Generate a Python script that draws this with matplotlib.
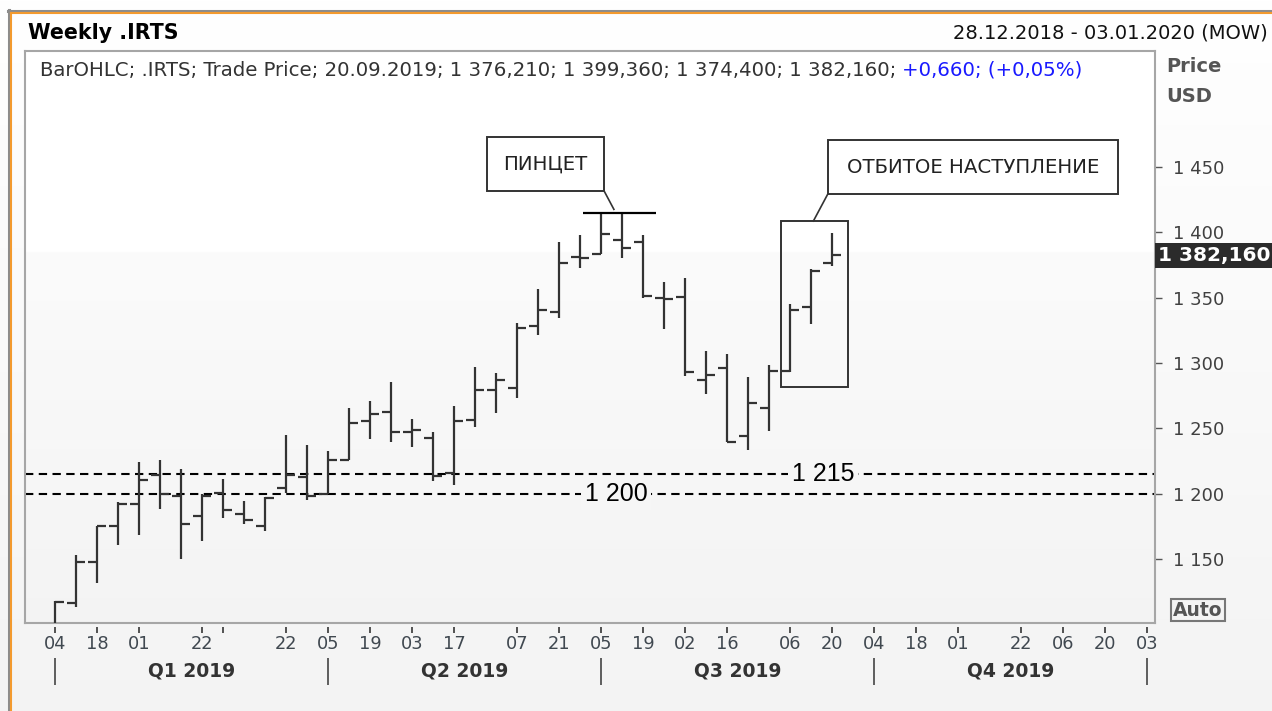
import numpy as np
import pandas as pd
import matplotlib
matplotlib.use("Agg")
import matplotlib.pyplot as plt
import matplotlib.dates as mdates
from matplotlib.patches import Rectangle
from matplotlib.lines import Line2D
from matplotlib.ticker import FuncFormatter
import matplotlib.transforms as mtransforms

# weekly bars (.IRTS), dated by Friday
weeks = pd.date_range("2019-01-04", "2019-09-20", freq="7D")
opens = [1070.0, 1117.0, 1148.1, 1175.6, 1192.4, 1214.5, 1198.5, 1183.2, 1200.8, 1184.7,
         1175.6, 1204.8, 1213.0, 1200.0, 1226.0, 1255.7, 1262.8, 1247.1, 1242.5, 1215.8,
         1256.5, 1279.4, 1281.1, 1328.2, 1338.7, 1381.1, 1383.2, 1393.9, 1392.6, 1349.8,
         1350.2, 1287.0, 1296.4, 1244.3, 1265.4, 1294.1, 1343.0, 1376.21]
highs = [1118.3, 1153.4, 1175.6, 1194.1, 1224.7, 1226.0, 1219.1, 1199.8, 1211.5, 1194.9,
         1197.7, 1245.0, 1237.4, 1232.8, 1265.9, 1271.0, 1285.7, 1257.0, 1247.6, 1267.2,
         1296.7, 1292.1, 1330.3, 1356.3, 1392.6, 1397.7, 1414.3, 1414.3, 1397.7, 1362.2,
         1365.1, 1309.4, 1306.9, 1289.5, 1298.5, 1345.0, 1371.5, 1399.36]
lows = [1066.0, 1114.0, 1132.3, 1161.1, 1168.7, 1188.5, 1150.4, 1164.1, 1181.7, 1176.9,
        1171.8, 1201.0, 1195.4, 1200.0, 1226.0, 1242.0, 1239.5, 1236.1, 1209.9, 1206.9,
        1251.4, 1262.1, 1273.1, 1321.4, 1334.1, 1372.3, 1383.2, 1379.9, 1349.8, 1326.3,
        1290.3, 1276.1, 1239.9, 1233.6, 1248.3, 1292.9, 1329.8, 1374.40]
closes = [1117.9, 1148.1, 1175.6, 1192.1, 1210.7, 1200.0, 1177.1, 1198.7, 1187.8, 1180.2,
          1197.2, 1214.3, 1198.5, 1226.0, 1254.0, 1261.1, 1247.1, 1248.9, 1214.0, 1255.5,
          1279.4, 1287.0, 1326.9, 1340.5, 1376.1, 1379.9, 1398.5, 1388.0, 1350.9, 1349.0,
          1292.9, 1290.8, 1239.9, 1269.2, 1293.9, 1340.5, 1370.2, 1382.16]

levels = [1215, 1200]
level_labels = ["1 215", "1 200"]
level_label_dates = ["2019-09-17", "2019-07-10"]

tick_dates = ["2019-01-04", "2019-01-18", "2019-02-01", "2019-02-22", "2019-03-01", "2019-03-22",
              "2019-04-05", "2019-04-19", "2019-05-03", "2019-05-17", "2019-06-07", "2019-06-21",
              "2019-07-05", "2019-07-19", "2019-08-02", "2019-08-16", "2019-09-06", "2019-09-20",
              "2019-10-04", "2019-10-18", "2019-11-01", "2019-11-22", "2019-12-06", "2019-12-20",
              "2020-01-03"]
tick_labels = ["04", "18", "01", "22", "", "22", "05", "19", "03", "17", "07", "21", "05", "19",
               "02", "16", "06", "20", "04", "18", "01", "22", "06", "20", "03"]
quarter_edges = ["2019-01-04", "2019-04-05", "2019-07-05", "2019-10-04", "2020-01-03"]
quarter_names = ["Q1 2019", "Q2 2019", "Q3 2019", "Q4 2019"]

W, H = 1272, 711
fig = plt.figure(figsize=(W / 100, H / 100), dpi=100)
fig.patch.set_facecolor("white")

def fx(x):
    return x / W

def fy(y):
    return 1 - y / H

# background gradient
bg = fig.add_axes([0, 0, 1, 1], zorder=-10)
grad = np.linspace(1.0, 0.955, 256).reshape(-1, 1)
bg.imshow(np.dstack([grad, grad, grad]), aspect="auto", extent=[0, 1, 0, 1])
bg.set_axis_off()

# outer frame
fig.add_artist(Line2D([fx(8.5), fx(8.5)], [fy(10), 0], transform=fig.transFigure, color="#8c8c8c", lw=2.2))
fig.add_artist(Line2D([fx(8), 1], [fy(10.5), fy(10.5)], transform=fig.transFigure, color="#8c8c8c", lw=2.2))
fig.add_artist(Line2D([fx(11.3), fx(11.3)], [fy(12.5), 0], transform=fig.transFigure, color="#f39a2e", lw=1.5))
fig.add_artist(Line2D([fx(10.5), 1], [fy(13.3), fy(13.3)], transform=fig.transFigure, color="#f39a2e", lw=1.5))

ax = fig.add_axes([fx(25), fy(623), fx(1130), 572 / H])
x0 = mdates.date2num(pd.Timestamp("2019-01-04"))
ax.set_xlim(x0 - 10, x0 + 366.67)
ax.set_ylim(1101.5, 1538.2)

pgrad = np.linspace(1.0, 0.955, 256).reshape(-1, 1)
pgrad[:90] = 1.0
ax.imshow(np.dstack([pgrad, pgrad, pgrad]), aspect="auto", extent=[0, 1, 0, 1],
          transform=ax.transAxes, zorder=0)

for s in ax.spines.values():
    s.set_color("#a6a6a6")
    s.set_linewidth(1.5)

# OHLC bars
xd = mdates.date2num(weeks)
bar_c = "#333333"
ax.vlines(xd, lows, highs, color=bar_c, lw=1.6, zorder=3)
ax.hlines(opens, xd - 3, xd, color=bar_c, lw=1.6, zorder=3)
ax.hlines(closes, xd, xd + 3, color=bar_c, lw=1.6, zorder=3)

# support levels
for lv, lab, ld in zip(levels, level_labels, level_label_dates):
    ax.axhline(lv, color="black", lw=1.5, ls=(0, (4, 2.6)), zorder=2)
    ax.text(mdates.date2num(pd.Timestamp(ld)), lv, lab, ha="center", va="center",
            fontsize=18, family=["Liberation Sans", "DejaVu Sans"], color="black", zorder=4,
            bbox=dict(boxstyle="square,pad=0.15", fc="#f6f6f6", ec="none"))

# tweezers annotation
top = max(highs[26:28])
ax.hlines(top, x0 + 176, x0 + 200.2, color="black", lw=1.6, zorder=4)
ax.add_patch(Rectangle((x0 + 144.1, 1431.5), 38.9, 40.8, fill=False, ec="#333333", lw=1.4, zorder=4))
ax.plot([x0 + 183, x0 + 186.3], [1431.5, 1417.3], color="#333333", lw=1.2, zorder=4)
ax.text(x0 + 163.5, 1452, "ПИНЦЕТ", ha="center", va="center", fontsize=14.2, color="#222222",
        family="DejaVu Sans", zorder=5)

# rejected advance annotation
ax.add_patch(Rectangle((x0 + 242, 1281.7), 22.3, 126.7, fill=False, ec="#333333", lw=1.4, zorder=4))
ax.add_patch(Rectangle((x0 + 257.6, 1429.0), 96.8, 41.2, fill=False, ec="#333333", lw=1.4, zorder=4))
ax.plot([x0 + 257.6, x0 + 252.8], [1429.0, 1408.4], color="#333333", lw=1.2, zorder=4)
ax.text(x0 + 306, 1449.6, "ОТБИТОЕ НАСТУПЛЕНИЕ", ha="center", va="center", fontsize=14.2,
        color="#222222", family="DejaVu Sans", zorder=5)

# right price axis
ax.yaxis.tick_right()
ax.set_yticks([1150, 1200, 1250, 1300, 1350, 1400, 1450])
ax.yaxis.set_major_formatter(FuncFormatter(lambda v, p: "{:,.0f}".format(v).replace(",", " ")))
ax.tick_params(axis="y", direction="out", length=5, width=1, color="#555555",
               labelcolor="#404040", labelsize=13, pad=8)

# bottom date ticks (drawn below the frame)
ax.set_xticks([])
bt = mtransforms.blended_transform_factory(ax.transData, ax.transAxes)
td = mdates.date2num(pd.to_datetime(tick_dates))
ax.vlines(td, -0.007, -0.017, transform=bt, color="#444444", lw=1.3, clip_on=False)
for d, lab in zip(td, tick_labels):
    ax.text(d, -0.037, lab, transform=bt, ha="center", va="center", fontsize=12.8,
            color="#404850", clip_on=False)
qd = mdates.date2num(pd.to_datetime(quarter_edges))
ax.vlines(qd, -0.061, -0.108, transform=bt, color="#444444", lw=1.2, clip_on=False)
for a, b, q in zip(qd[:-1], qd[1:], quarter_names):
    ax.text((a + b) / 2, -0.084, q, transform=bt, ha="center", va="center", fontsize=13.5,
            fontweight="bold", color="#333333", clip_on=False)

# last price tag
rt = mtransforms.blended_transform_factory(ax.transAxes, ax.transData)
ax.text(1.0025, closes[-1], "1 382,160", transform=rt, ha="left", va="center", fontsize=14.5,
        fontweight="bold", color="white", clip_on=False, zorder=6,
        bbox=dict(boxstyle="square,pad=0.14", fc="#2b2b2b", ec="none"))

# header texts
fig.text(fx(28), fy(33), "Weekly .IRTS", ha="left", va="center", fontsize=14.8, fontweight="bold",
         color="black")
fig.text(fx(1268), fy(33), "28.12.2018 - 03.01.2020 (MOW)", ha="right", va="center", fontsize=14,
         color="#111111")
leg1 = fig.text(fx(40), fy(70), "BarOHLC; .IRTS; Trade Price; 20.09.2019; 1 376,210; 1 399,360; 1 374,400; 1 382,160; ",
                ha="left", va="center", fontsize=14.2, color="#333333")
fig.canvas.draw()
bb = leg1.get_window_extent()
fig.text(bb.x1 / W, fy(70), "+0,660; (+0,05%)", ha="left", va="center", fontsize=14.2, color="#1a1aff")
fig.text(fx(1166), fy(66), "Price", ha="left", va="center", fontsize=14, fontweight="bold", color="#555555")
fig.text(fx(1166), fy(96), "USD", ha="left", va="center", fontsize=14, fontweight="bold", color="#555555")
fig.text(fx(1198), fy(610), "Auto", ha="center", va="center", fontsize=13.5, fontweight="bold",
         color="#555555", bbox=dict(boxstyle="square,pad=0.1", fc="#f4f4f4", ec="#777777", lw=1.5))

fig.savefig("out.png", dpi=100)
